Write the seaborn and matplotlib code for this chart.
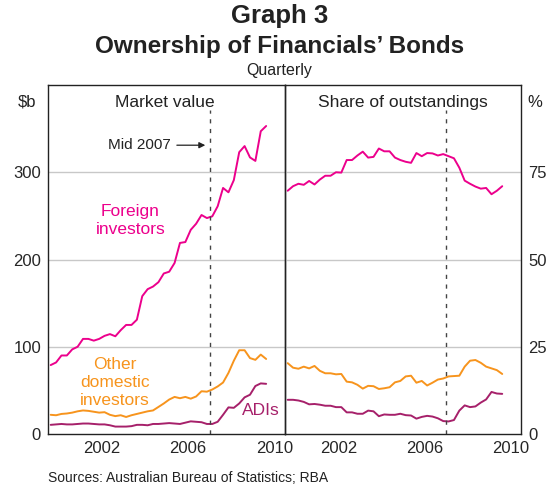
import matplotlib
matplotlib.use("Agg")
import matplotlib.pyplot as plt
import seaborn as sns
import numpy as np
import pandas as pd

# quarterly, Mar 2000 to Mar 2010
quarters = pd.period_range("2000Q1", "2010Q1", freq="Q")

foreign_bn = [79, 82, 90, 90, 97, 100, 109, 109, 107, 109, 112.5, 114.5, 112, 119, 125, 125,
              131, 158, 166, 169, 174, 184, 186, 196, 219, 220, 234, 241, 251, 247.5, 249.5, 261,
              282, 277, 291, 323, 330, 317, 313, 347, 353]
other_bn = [22, 21.5, 23, 23.5, 24.5, 26, 27, 26.5, 25.5, 24.5, 25, 22, 20.5, 21.5, 19.5, 21.5,
            23, 24.5, 26, 27, 31, 35, 39.5, 42.5, 41, 42.5, 40.5, 43, 49, 48.5, 51, 54.5,
            59, 70, 84, 96, 96, 87, 85, 91, 86]
adis_bn = [10.5, 11, 11.5, 11, 11, 11.5, 12, 12, 11.5, 11, 11, 10, 8.5, 8.5, 8.5, 9,
           10.5, 10.5, 10, 11.5, 11.5, 12, 12.5, 12, 11.5, 13, 14.5, 14, 13.5, 11.5, 11.5, 14,
           22, 30.5, 30, 35, 42, 45, 55, 58, 57.5]

foreign_pct = [69.7, 71, 71.7, 71.4, 72.5, 71.5, 72.9, 74, 74, 75, 74.9, 78.5, 78.5, 79.8, 80.9, 79.2,
               79.4, 81.8, 81, 81, 79.2, 78.5, 78, 77.7, 80.5, 79.6, 80.5, 80.4, 79.8, 80.2, 79.6, 79,
               76.3, 72.6, 71.7, 70.9, 70.3, 70.5, 68.7, 69.7, 71]
other_pct = [20.3, 19, 18.7, 19.3, 18.8, 19.5, 18.1, 17.4, 17.4, 17.1, 17.2, 15, 14.8, 14.1, 13, 13.8,
             13.7, 12.9, 13.1, 13.4, 14.8, 15.2, 16.5, 16.7, 14.7, 15.2, 13.9, 14.7, 15.6, 15.9, 16.5, 16.6,
             16.7, 19.3, 21, 21.2, 20.4, 19.3, 18.8, 18.3, 17.2]
adis_pct = [9.8, 9.8, 9.6, 9.2, 8.5, 8.6, 8.4, 8.1, 8.1, 7.7, 7.7, 6.2, 6.2, 5.8, 5.8, 6.7,
            6.5, 5.1, 5.6, 5.5, 5.5, 5.8, 5.4, 5.3, 4.4, 4.9, 5.2, 5.0, 4.5, 3.7, 3.6, 4.0,
            6.7, 8.2, 7.7, 7.9, 9.0, 9.9, 12.05, 11.6, 11.5]

year_labels = ["2002", "2006", "2010"]
left_ticks = [0, 100, 200, 300]
right_ticks = [0, 25, 50, 75]

colors = {"Foreign": "#EC008C", "Other": "#F7941D", "ADIs": "#A6206A"}

# mid-quarter as decimal year
xdate = quarters.year + (quarters.quarter - 0.5) / 4


def long_frame(foreign, other, adis):
    df = pd.DataFrame({"date": xdate, "Foreign": foreign, "Other": other, "ADIs": adis})
    return df.melt(id_vars="date", var_name="series", value_name="value")


sns.set_style("white")
plt.rcParams["font.family"] = ["Liberation Sans", "DejaVu Sans"]

fig = plt.figure(figsize=(5.59, 4.87), dpi=100)
ax1 = fig.add_axes([48 / 559, 1 - 434 / 487, 237 / 559, 349 / 487])
ax2 = fig.add_axes([285 / 559, 1 - 434 / 487, 236 / 559, 349 / 487])

sns.lineplot(long_frame(foreign_bn, other_bn, adis_bn), x="date", y="value", hue="series",
             palette=colors, ax=ax1, legend=False, linewidth=1.4)
sns.lineplot(long_frame(foreign_pct, other_pct, adis_pct), x="date", y="value", hue="series",
             palette=colors, ax=ax2, legend=False, linewidth=1.4)

for ax, top, ticks in [(ax1, 400, left_ticks), (ax2, 100, right_ticks)]:
    ax.set_xlim(2000, 2011)
    ax.set_ylim(0, top)
    ax.set_xlabel("")
    ax.set_ylabel("")
    ax.set_yticks(ticks)
    for t in ticks[1:]:
        ax.axhline(t, color="#c8c8c8", lw=1, zorder=0)
    ax.set_xticks(np.arange(2000, 2012))
    ax.set_xticklabels([])
    ax.set_xticks([2002.5, 2006.5, 2010.5], labels=year_labels, minor=True)
    ax.tick_params(axis="x", which="major", direction="in", length=5, width=1, color="#222222")
    ax.tick_params(axis="x", which="minor", length=0, pad=5, labelsize=12)
    ax.tick_params(axis="y", length=0, pad=5, labelsize=12)
    for s in ax.spines.values():
        s.set_color("#222222")
        s.set_linewidth(1)
    ax.axvline(2007.5, ymin=0, ymax=0.928, color="#444444", lw=1, ls=(0, (3, 4)))
    ax.set_facecolor("none")

ax2.yaxis.tick_right()

ax1.text(0.494, 0.951, "Market value", transform=ax1.transAxes, ha="center", va="center", fontsize=12.5, color="#222222")
ax2.text(0.5, 0.951, "Share of outstandings", transform=ax2.transAxes, ha="center", va="center", fontsize=12.5, color="#222222")
ax1.text(-0.089, 0.951, "$b", transform=ax1.transAxes, ha="center", va="center", fontsize=12, color="#222222")
ax2.text(1.06, 0.951, "%", transform=ax2.transAxes, ha="center", va="center", fontsize=12, color="#222222")

ax1.annotate("Mid 2007", xy=(2007.3, 331), xytext=(2005.7, 331), ha="right", va="center",
             fontsize=11, color="#222222",
             arrowprops=dict(arrowstyle="-|>", color="#222222", lw=0.9, shrinkA=2, shrinkB=0,
                             mutation_scale=9))
ax1.text(2003.83, 244.5, "Foreign\ninvestors", ha="center", va="center", fontsize=12.5,
         color=colors["Foreign"], linespacing=1.25)
ax1.text(2003.1, 58.5, "Other\ndomestic\ninvestors", ha="center", va="center", fontsize=12.5,
         color=colors["Other"], linespacing=1.25)
ax1.text(2009.9, 27.5, "ADIs", ha="center", va="center", fontsize=12.5, color=colors["ADIs"])

fig.text(0.5, 1 - 16 / 487, "Graph 3", ha="center", va="center", fontsize=18.5, fontweight="bold", color="#222222")
fig.text(0.5, 1 - 47 / 487, "Ownership of Financials\u2019 Bonds", ha="center", va="center",
         fontsize=17.5, fontweight="bold", color="#222222")
fig.text(0.5, 1 - 71 / 487, "Quarterly", ha="center", va="center", fontsize=11.5, color="#222222")
fig.text(48 / 559, 1 - 478 / 487, "Sources: Australian Bureau of Statistics; RBA", ha="left", va="center",
         fontsize=10, color="#222222")

fig.savefig("out.png", dpi=100)
